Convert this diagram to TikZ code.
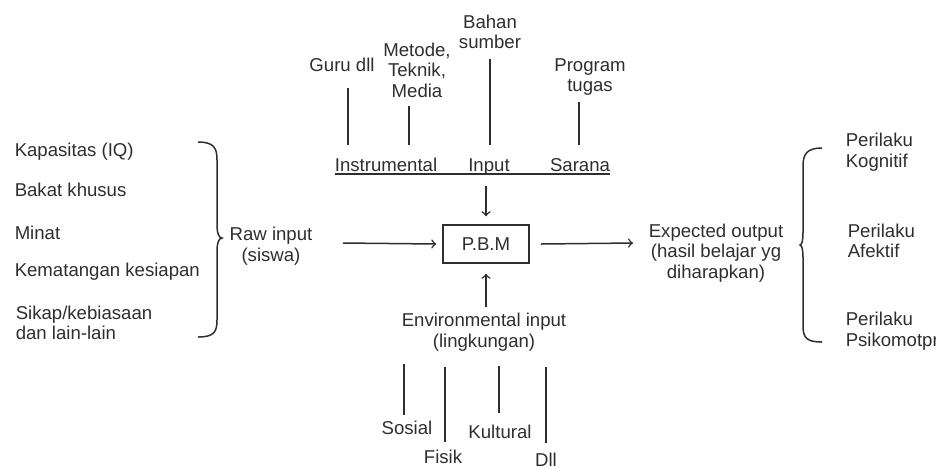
\documentclass[tikz,border=0pt]{standalone}
\usepackage{fontspec}
\setmainfont{Liberation Sans}
\usepackage{tikz}
\usetikzlibrary{positioning, calc}
\definecolor{ink}{HTML}{2E2E2E}

\begin{document}
\begin{tikzpicture}[x=0.5pt, y=-0.5pt, line width=0.75pt, draw=ink, text=ink,
        font=\fontsize{9.3}{10.3}\selectfont, inner sep=1pt]

            \useasboundingbox (0,0) rectangle (936,468);

            % Kotak P.B.M di tengah
            \node[draw, minimum width=43pt, minimum height=19pt] (pbm) at (486,244) {P.B.M};

            % Label bagian atas
            \node[align=center] (bahan) at (490,32) {Bahan\\sumber};
            \node[align=center] (metode) at (417,70) {Metode,\\Teknik,\\Media};
            \node (guru) at (342,65) {Guru dll};
            \node[align=center] (program) at (590,77) {Program\\tugas};

            % Baris bergaris bawah
            \node[anchor=base] (instr) at (386,171) {Instrumental};
            \node[anchor=base] (input) at (489,171) {Input};
            \node[anchor=base] (sarana) at (580,171) {Sarana};
            \coordinate (ulA) at (335,174);
            \coordinate (ulB) at (610,174);
            \draw (ulA) -- (ulB);

            % Garis tegak di atas
            \coordinate (g1) at (348,88);  \coordinate (g2) at (348,145);
            \coordinate (m1) at (409,106); \coordinate (m2) at (409,145);
            \coordinate (b1) at (490,59);  \coordinate (b2) at (490,145);
            \coordinate (p1) at (579,102); \coordinate (p2) at (579,145);
            \draw (g1) -- (g2);
            \draw (m1) -- (m2);
            \draw (b1) -- (b2);
            \draw (p1) -- (p2);

            % Panah masuk ke P.B.M
            \coordinate (inTop) at (486,186);
            \draw[->] (inTop) -- ($(pbm.north)+(0,-8)$);

            % Raw input
            \node[align=center] (raw) at (271,246) {Raw input\\(siswa)};
            \coordinate (rawEnd) at (343,243);
            \draw[->] (rawEnd) -- ($(pbm.west)+(-6,0)$);

            % Expected output
            \node[align=center] (exp) at (716,253) {Expected output\\(hasil belajar yg\\diharapkan)};
            \coordinate (outEnd) at (633,243);
            \draw[->] ($(pbm.east)+(11,0)$) -- (outEnd);

            % Environmental input
            \node[align=center] (env) at (484,332) {Environmental input\\(lingkungan)};
            \coordinate (envTop) at (486,307);
            \draw[->] (envTop) -- ($(pbm.south)+(0,10)$);

            % Label bagian bawah
            \node (sosial) at (407,428) {Sosial};
            \node (fisik) at (443,457) {Fisik};
            \node (kultural) at (500,432) {Kultural};
            \node (dll) at (546,460) {Dll};
            \coordinate (s1) at (404,364); \coordinate (s2) at (404,415);
            \coordinate (f1) at (445,367); \coordinate (f2) at (445,442);
            \coordinate (k1) at (499,366); \coordinate (k2) at (499,413);
            \coordinate (d1) at (546,367); \coordinate (d2) at (546,443);
            \draw (s1) -- (s2);
            \draw (f1) -- (f2);
            \draw (k1) -- (k2);
            \draw (d1) -- (d2);

            % Daftar kiri
            \node[anchor=west] (iq) at (12,152) {Kapasitas (IQ)};
            \node[anchor=west] (bakat) at (12,190) {Bakat khusus};
            \node[anchor=west] (minat) at (12,233) {Minat};
            \node[anchor=west] (matang) at (12,272) {Kematangan kesiapan};
            \node[anchor=west, align=left] (sikap) at (13,323) {Sikap/kebiasaan\\dan lain-lain};

            % Kurung kurawal kiri
            \draw (198,142) .. controls (214,142) and (217,148) .. (217,160)
                -- (217,226) .. controls (217,233) and (219,238) .. (222,238)
                .. controls (219,238) and (217,243) .. (217,250)
                -- (217,320) .. controls (217,332) and (214,337) .. (198,337);

            % Kurung kurawal kanan
            \draw (822,148) .. controls (807,148) and (803,154) .. (803,166)
                -- (803,232) .. controls (803,240) and (802,245) .. (800,245)
                .. controls (802,245) and (803,250) .. (803,258)
                -- (803,326) .. controls (803,338) and (807,342) .. (822,342);

            % Daftar kanan
            \node[anchor=west, align=left] (kog) at (843,152) {Perilaku\\Kognitif};
            \node[anchor=west, align=left] (afek) at (845,241) {Perilaku\\Afektif};
            \node[anchor=west, align=left] (psiko) at (843,331) {Perilaku\\Psikomotpr};

            \end{tikzpicture}
\end{document}
